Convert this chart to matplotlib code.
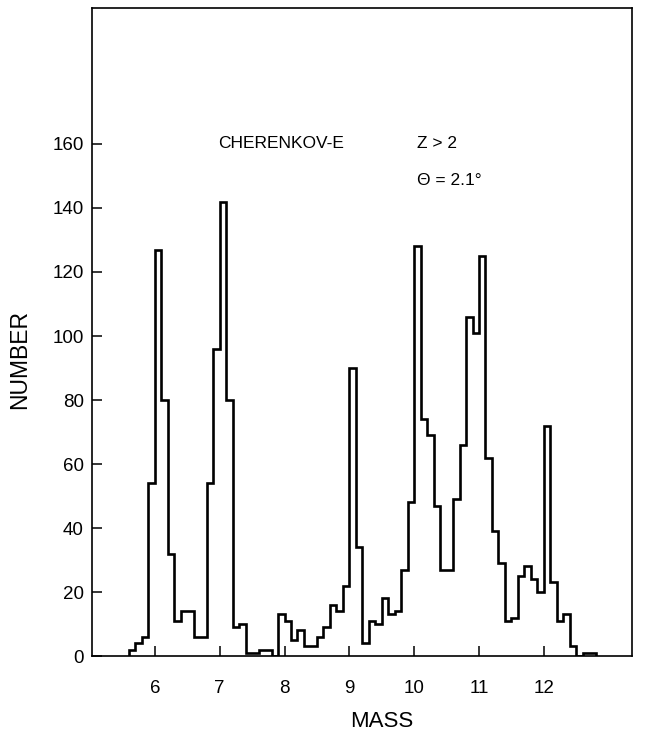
import numpy as np
import matplotlib

matplotlib.use("Agg")

import matplotlib.pyplot as plt

plt.rcParams["font.family"] = ["Liberation Sans", "DejaVu Sans"]

# mass histogram, bins of 0.1 starting at 5.60
BIN_START = 5.60
BIN_WIDTH = 0.1
counts = [
    2, 4, 6, 54, 127, 80, 32, 11, 14, 14,
    6, 6, 54, 96, 142, 80, 9, 10, 1, 1,
    2, 2, 0, 13, 11, 5, 8, 3, 3, 6,
    9, 16, 14, 22, 90, 34, 4, 11, 10, 18,
    13, 14, 27, 48, 128, 74, 69, 47, 27, 27,
    49, 66, 106, 101, 125, 62, 39, 29, 11, 12,
    25, 28, 24, 20, 72, 23, 11, 13, 3, 0,
    1, 1,
]
x_ticks = [6, 7, 8, 9, 10, 11, 12]
y_ticks = [0, 20, 40, 60, 80, 100, 120, 140, 160]


def main():
    edges = BIN_START + BIN_WIDTH * np.arange(len(counts) + 1)

    fig = plt.figure(figsize=(6.46, 7.40), dpi=100)
    ax = fig.add_axes([0.1424, 0.1135, 0.8359, 0.8757])

    ax.stairs(counts, edges, baseline=0, color="black", linewidth=1.9)

    ax.set_xlim(5.03, 13.36)
    ax.set_ylim(0, 202.5)
    ax.set_xticks(x_ticks)
    ax.set_yticks(y_ticks)
    ax.tick_params(direction="in", length=7.5, width=1.1, labelsize=13.5)
    ax.tick_params(axis="x", pad=17)
    ax.tick_params(axis="y", pad=6)
    for spine in ax.spines.values():
        spine.set_linewidth(1.2)

    ax.set_xlabel("MASS", fontsize=16)
    ax.xaxis.set_label_coords(0.537, -0.085)
    ax.set_ylabel("NUMBER", fontsize=16.5)
    ax.yaxis.set_label_coords(-0.113, 0.457)

    ax.text(6.97, 160, "CHERENKOV-E", fontsize=12.5, va="center", ha="left")
    ax.text(10.04, 160, "Z > 2", fontsize=12.5, va="center", ha="left")
    ax.text(10.04, 148.5, "\u0398 = 2.1\u00b0", fontsize=12.5, va="center", ha="left")

    fig.savefig("out.png", dpi=100)


if __name__ == "__main__":
    main()
